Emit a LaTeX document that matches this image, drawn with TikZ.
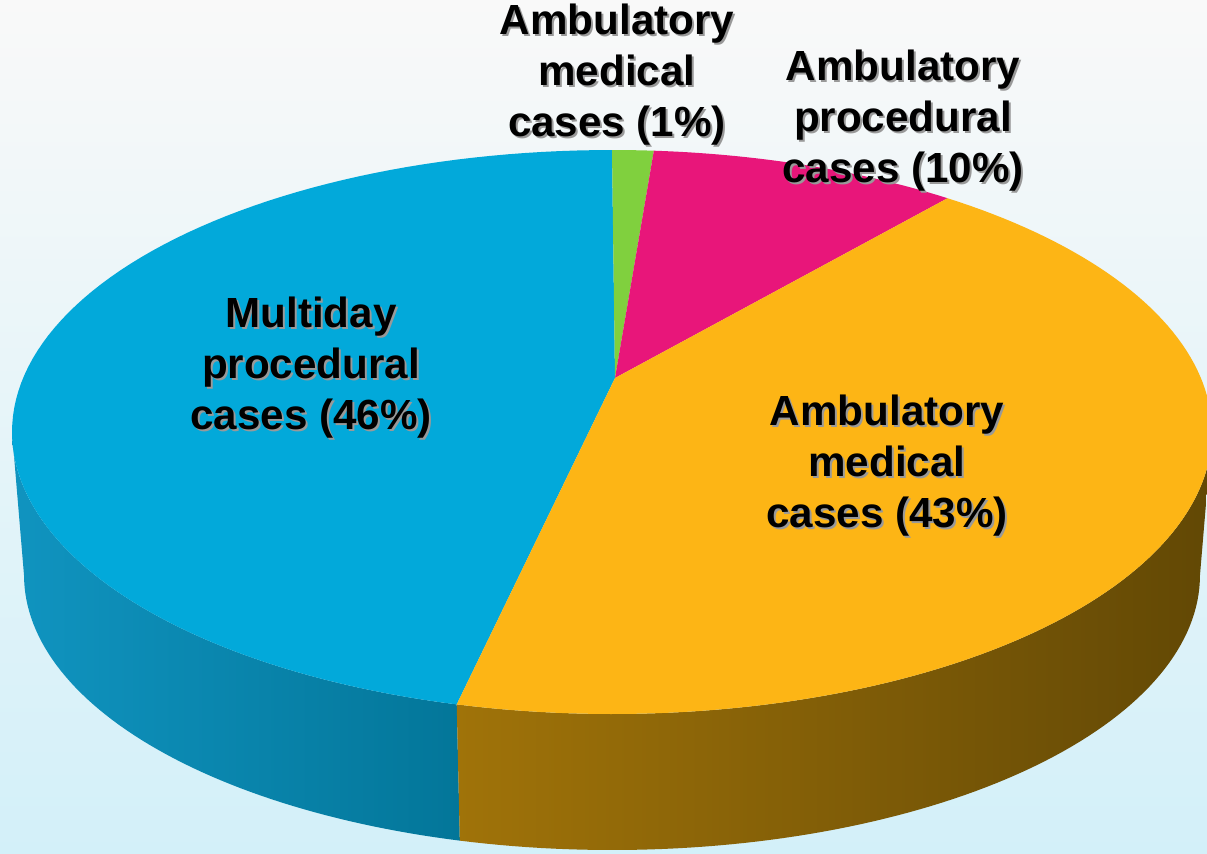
\documentclass[tikz,border=0pt]{standalone}
\usepackage{fontspec}
\setmainfont{Liberation Sans}
\definecolor{mycyan}{RGB}{2,169,218}
\definecolor{mygreen}{RGB}{128,208,62}
\definecolor{mypink}{RGB}{232,22,122}
\definecolor{myorange}{RGB}{253,181,21}
\definecolor{cyanlight}{RGB}{16,148,192}
\definecolor{cyandark}{RGB}{3,118,153}
\definecolor{orangelight}{RGB}{160,115,9}
\definecolor{orangedark}{RGB}{98,72,5}
\definecolor{bgtop}{RGB}{249,249,249}
\definecolor{bgmid}{RGB}{238,243,244}
\definecolor{bgbottom}{RGB}{211,240,249}
\usetikzlibrary{positioning,calc}

\begin{document}
\begin{tikzpicture}[x=0.02cm,y=-0.02cm,
    lbl/.style={align=center,inner sep=0pt,font=\bfseries\fontsize{24}{29}\selectfont},
    shd/.style={lbl,text=black!40}
    ]
    \useasboundingbox (0,0) rectangle (1207,853);
    \shade[top color=bgtop,middle color=bgmid,bottom color=bgbottom] (0,0) rectangle (1207,853);

    \coordinate (ctr) at (615,378);

    % the sides
    \shade[left color=cyanlight,right color=cyandark]
        plot[domain=105:180,samples=60] ({612+600*cos(\x)},{432+282*sin(\x)})
        -- plot[domain=180:105,samples=60] ({612+588*cos(\x)},{575+275*sin(\x)}) -- cycle;
    \shade[left color=orangelight,right color=orangedark]
        plot[domain=0:105,samples=80] ({612+600*cos(\x)},{432+282*sin(\x)})
        -- plot[domain=105:0,samples=80] ({612+588*cos(\x)},{575+275*sin(\x)}) -- cycle;

    % the slices
    \fill[mycyan] (ctr) -- plot[domain=105:270,samples=100] ({612+600*cos(\x)},{432+282*sin(\x)}) -- cycle;
    \fill[mygreen] (ctr) -- plot[domain=270:274,samples=10] ({612+600*cos(\x)},{432+282*sin(\x)}) -- cycle;
    \fill[mypink] (ctr) -- plot[domain=274:304,samples=30] ({612+600*cos(\x)},{432+282*sin(\x)}) -- cycle;
    \fill[myorange] (ctr) -- plot[domain=-56:105,samples=120] ({612+600*cos(\x)},{432+282*sin(\x)}) -- cycle;

    % the labels
    \node (amedS) [shd] at (619,77) {Ambulatory\\medical\\cases (1\%)};
    \node (amed) [lbl] at (617,75) {Ambulatory\\medical\\cases (1\%)};
    \node (aprocS) [shd] at (905,123) {Ambulatory\\procedural\\cases (10\%)};
    \node (aproc) [lbl] at (903,121) {Ambulatory\\procedural\\cases (10\%)};
    \node (mprocS) [shd] at (313,370) {Multiday\\procedural\\cases (46\%)};
    \node (mproc) [lbl] at (311,368) {Multiday\\procedural\\cases (46\%)};
    \node (amedbS) [shd] at (889,468) {Ambulatory\\medical\\cases (43\%)};
    \node (amedb) [lbl] at (887,466) {Ambulatory\\medical\\cases (43\%)};
\end{tikzpicture}
\end{document}
